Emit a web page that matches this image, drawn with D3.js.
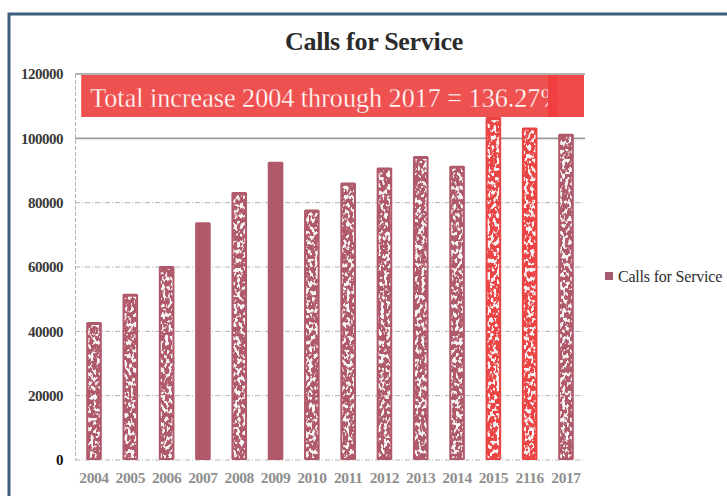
<!DOCTYPE html>
<html>
<head>
<meta charset="utf-8">
<script src="https://cdn.jsdelivr.net/npm/d3@7"></script>
<style>
  html, body { margin: 0; padding: 0; background: #fff; }
  svg { display: block; }
</style>
</head>
<body>
<svg id="chart" width="727" height="496"></svg>
<script>
// Calls for service per year
const years = ["2004","2005","2006","2007","2008","2009","2010","2011","2012","2013","2014","2015","2116","2017"];
const calls = [42900, 51700, 60300, 73900, 83300, 92700, 77900, 86300, 90900, 94500, 91500, 106600, 103400, 101400];
const yTicks = [0, 20000, 40000, 60000, 80000, 100000, 120000];
const highlightYears = ["2015", "2116"];
const plainYears = ["2007", "2009"];
const chartTitle = "Calls for Service";
const seriesName = "Calls for Service";
const bannerText = "Total increase 2004 through 2017 = 136.27%";

const svg = d3.select("#chart");
const serif = "Liberation Serif, DejaVu Serif, serif";

// speckled texture: white specks masked by noise
const defs = svg.append("defs");
const f = defs.append("filter").attr("id", "speck")
  .attr("x", 0).attr("y", 0).attr("width", 1).attr("height", 1)
  .attr("filterUnits", "objectBoundingBox");
f.append("feTurbulence").attr("type", "fractalNoise")
  .attr("baseFrequency", "0.32 0.22").attr("numOctaves", 2).attr("seed", 11).attr("result", "n");
f.append("feColorMatrix").attr("in", "n").attr("type", "matrix")
  .attr("values", "0 0 0 0 0.93  0 0 0 0 0.92  0 0 0 0 0.92  10 0 0 0 -5.0").attr("result", "w");
f.append("feComposite").attr("in", "w").attr("in2", "SourceGraphic").attr("operator", "in");

// frame
svg.append("path")
  .attr("d", "M9,496 V14 H727")
  .attr("fill", "none").attr("stroke", "#3e5d7d").attr("stroke-width", 3);

const x = d3.scaleBand().domain(years).range([75.85, 584.15])
  .paddingInner(0.57).paddingOuter(0.285);
const y = d3.scaleLinear().domain([0, 120000]).range([460, 74]);

// gridlines
const grid = svg.append("g");
grid.selectAll("line").data(yTicks).join("line")
  .attr("x1", 75).attr("x2", 585)
  .attr("y1", d => y(d)).attr("y2", d => y(d))
  .attr("stroke", d => d >= 100000 ? "#9a9a9a" : "#b4b4b4")
  .attr("stroke-width", d => d >= 100000 ? 1.6 : 1)
  .attr("stroke-dasharray", d => d >= 100000 ? null : "5,2,1,2");
grid.append("line").attr("x1", 75.5).attr("x2", 75.5).attr("y1", y(120000)).attr("y2", y(0))
  .attr("stroke", "#b4b4b4").attr("stroke-dasharray", "4,2");

// y axis labels
const yAxis = d3.axisLeft(y).tickValues(yTicks).tickSize(0).tickPadding(0).tickFormat(d3.format("d"));
const ya = svg.append("g").attr("transform", "translate(63,0)").call(yAxis);
ya.select(".domain").remove();
ya.selectAll("text")
  .attr("font-family", serif).attr("font-weight", "bold").attr("font-size", 15)
  .attr("fill", d => d === 0 ? "#111" : "#3a3a3a")
  .attr("letter-spacing", -0.5);

// x axis labels
const xAxis = d3.axisBottom(x).tickSize(0).tickPadding(0);
const xa = svg.append("g").attr("transform", "translate(0,472)").call(xAxis);
xa.select(".domain").remove();
xa.selectAll("text")
  .attr("font-family", serif).attr("font-weight", "bold").attr("font-size", 15.5)
  .attr("fill", "#8f8f8f").attr("letter-spacing", -0.4);

// bars
const barData = years.map((yr, i) => ({ yr, v: calls[i] }));
const bars = svg.append("g");
bars.selectAll("rect.bar").data(barData).join("rect").attr("class", "bar")
  .attr("x", d => x(d.yr)).attr("width", x.bandwidth())
  .attr("y", d => y(d.v)).attr("height", d => y(0) - y(d.v))
  .attr("rx", 1.5)
  .attr("fill", d => highlightYears.includes(d.yr) ? "#ea4444" : "#b0596b");
bars.selectAll("rect.tex").data(barData.filter(d => !plainYears.includes(d.yr))).join("rect").attr("class", "tex")
  .attr("x", d => x(d.yr) + 2).attr("width", x.bandwidth() - 4)
  .attr("y", d => y(d.v) + 3).attr("height", d => y(0) - y(d.v) - 5)
  .attr("fill", "#fff")
  .attr("filter", "url(#speck)");

// annotation banner
const bx0 = x(years[0]) - 5, bx1 = 557, by0 = y(120000) + 1, by1 = 117;
svg.append("rect").attr("x", bx0).attr("y", by0).attr("width", bx1 - bx0).attr("height", by1 - by0)
  .attr("fill", "#ef5151");
svg.append("text").attr("x", bx0 + 9).attr("y", 107)
  .attr("font-family", serif).attr("font-size", 28).attr("fill", "#fff")
  .attr("stroke", "#ef5151").attr("stroke-width", 0.35)
  .attr("textLength", 472).attr("lengthAdjust", "spacingAndGlyphs")
  .text(bannerText);
svg.append("rect").attr("x", 548).attr("y", by0).attr("width", 36).attr("height", by1 - by0)
  .attr("fill", "#f03b3b").attr("opacity", 0.93);

// title
svg.append("text").attr("x", 374).attr("y", 50).attr("text-anchor", "middle")
  .attr("font-family", serif).attr("font-weight", "bold").attr("font-size", 26)
  .attr("fill", "#2b2b2b").attr("letter-spacing", -0.3)
  .text(chartTitle);

// legend
const lg = svg.append("g").attr("transform", "translate(605,272)");
lg.append("rect").attr("width", 8).attr("height", 8).attr("fill", "#a55a70");
lg.append("text").attr("x", 13).attr("y", 10)
  .attr("font-family", serif).attr("font-size", 16).attr("fill", "#2e2e2e")
  .attr("letter-spacing", -0.2)
  .text(seriesName);
</script>
</body>
</html>
